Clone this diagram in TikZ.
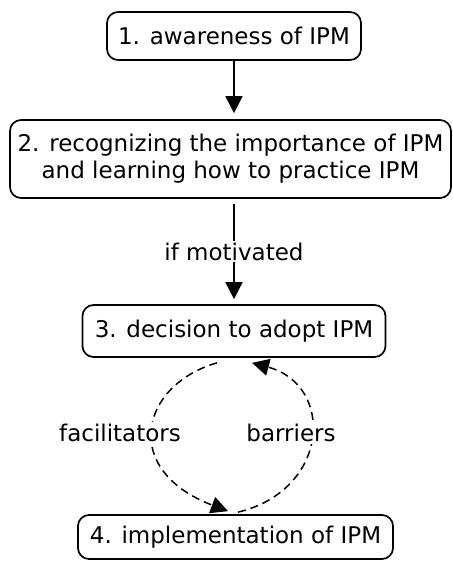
\documentclass[tikz,border=0pt]{standalone}
\usepackage{fontspec}
\setmainfont{DejaVu Sans}
\usetikzlibrary{arrows.meta}
\tikzset{
  stagebox/.style={draw, line width=1.7pt, rounded corners=11pt, align=center, inner sep=0pt},
  flow/.style={line width=1.7pt, -{Triangle[length=17pt,width=17pt]}},
  loopflow/.style={line width=1.5pt, dash pattern=on 8pt off 5pt, -{Triangle[length=17pt,width=17pt]}},
  lbl/.style={fill=white, inner sep=2pt}
}
\begin{document}
\begin{tikzpicture}[x=1pt,y=-1pt, font=\fontsize{23}{27}\selectfont]
\useasboundingbox (0,0) rectangle (453,563);
\node[stagebox, minimum width=254pt, minimum height=48pt] (b1) at (234,36) {1. awareness of IPM};
\node[stagebox, minimum width=441pt, minimum height=78pt] (b2) at (230.5,159) {2. recognizing the importance of IPM\\and learning how to practice IPM};
\node[stagebox, minimum width=303pt, minimum height=52pt] (b3) at (234,331) {3. decision to adopt IPM};
\node[stagebox, minimum width=315pt, minimum height=44pt] (b4) at (235.5,537) {4. implementation of IPM};

\draw[flow, shorten >=6pt] (b1.south) -- (b1.south |- b2.north);
\draw[flow, shorten <=5pt, shorten >=5pt] (b3.north |- b2.south) -- node[lbl] (m) {if motivated} (b3.north);

\draw[loopflow] ([xshift=-17pt,yshift=-5pt]b3.south) .. controls (140,385) and (120,470) .. ([xshift=-7.5pt,yshift=3pt]b4.north);
\draw[loopflow] ([xshift=2.5pt,yshift=2pt]b4.north) .. controls (330,490) and (335,385) .. ([xshift=18pt,yshift=-5pt]b3.south);

\node[lbl] (fac) at (120,433) {facilitators};
\node[lbl] (bar) at (291,433) {barriers};
\end{tikzpicture}
\end{document}
